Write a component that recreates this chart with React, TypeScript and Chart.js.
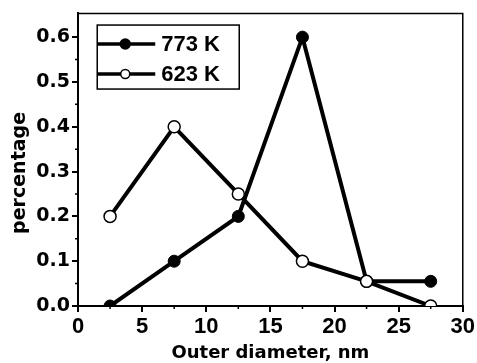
import React, { useEffect, useRef } from "react";
import { Chart, registerables } from "chart.js";

Chart.register(...registerables);

const xValues = [2.5, 7.5, 12.5, 17.5, 22.5, 27.5];
const series773 = [0, 0.1, 0.2, 0.6, 0.055, 0.055];
const series623 = [0.2, 0.4, 0.25, 0.1, 0.055, 0];
const seriesLabels = ["773 K", "623 K"];
const xTicks = [0, 5, 10, 15, 20, 25, 30];
const yTicks = [0, 0.1, 0.2, 0.3, 0.4, 0.5, 0.6];
const xMinorTicks = [2.5, 7.5, 12.5, 17.5, 22.5, 27.5];
const yMinorTicks = [0.05, 0.15, 0.25, 0.35, 0.45, 0.55];
const xTitle = "Outer diameter, nm";
const yTitle = "percentage    ";

const framePlugin = {
  id: "frame",
  afterDraw(chart: any) {
    const { ctx, chartArea, scales } = chart;
    const { left, right, top, bottom } = chartArea;
    ctx.save();
    ctx.strokeStyle = "#000";
    ctx.lineWidth = 1.5;
    ctx.beginPath();
    ctx.moveTo(left, top);
    ctx.lineTo(right, top);
    ctx.lineTo(right, bottom);
    ctx.stroke();
    ctx.lineWidth = 1.5;
    ctx.beginPath();
    yMinorTicks.forEach((v) => {
      const y = scales.y.getPixelForValue(v);
      ctx.moveTo(left - 3, y);
      ctx.lineTo(left, y);
    });
    xMinorTicks.forEach((v) => {
      const x = scales.x.getPixelForValue(v);
      ctx.moveTo(x, bottom);
      ctx.lineTo(x, bottom + 3);
    });
    ctx.stroke();
    ctx.restore();
  },
};

const legendPlugin = {
  id: "customLegend",
  afterDraw(chart: any) {
    const { ctx, scales } = chart;
    const bx = scales.x.getPixelForValue(1.5);
    const by = scales.y.getPixelForValue(0.627);
    const bw = 142;
    const bh = 64;
    ctx.save();
    ctx.fillStyle = "#fff";
    ctx.fillRect(bx, by, bw, bh);
    ctx.strokeStyle = "#000";
    ctx.lineWidth = 1.5;
    ctx.strokeRect(bx, by, bw, bh);
    const rows = [by + 19, by + 49];
    chart.data.datasets.forEach((ds: any) => {
      const idx = seriesLabels.indexOf(ds.label);
      const y = rows[idx];
      ctx.strokeStyle = "#000";
      ctx.lineWidth = 3.5;
      ctx.beginPath();
      ctx.moveTo(bx, y);
      ctx.lineTo(bx + 58, y);
      ctx.stroke();
      ctx.beginPath();
      ctx.arc(bx + 28, y, idx === 0 ? 5 : 4.5, 0, Math.PI * 2);
      ctx.fillStyle = ds.pointBackgroundColor;
      ctx.fill();
      ctx.lineWidth = 1.5;
      ctx.stroke();
      ctx.fillStyle = "#000";
      ctx.font = "bold 22px 'Liberation Sans', Arial, sans-serif";
      ctx.textBaseline = "middle";
      ctx.textAlign = "left";
      ctx.fillText(ds.label, bx + 64, y + 1);
    });
    ctx.restore();
  },
};

export default function App() {
  const ref = useRef<HTMLCanvasElement>(null);
  useEffect(() => {
    if (!ref.current) return;
    const chart = new Chart(ref.current, {
      type: "line",
      data: {
        datasets: [
          {
            label: seriesLabels[0],
            data: xValues.map((x, i) => ({ x, y: series773[i] })),
            borderColor: "#000",
            borderWidth: 4,
            pointRadius: 6,
            pointBackgroundColor: "#000",
            pointBorderColor: "#000",
            pointBorderWidth: 1,
            tension: 0,
            order: 1,
          },
          {
            label: seriesLabels[1],
            data: xValues.map((x, i) => ({ x, y: series623[i] })),
            borderColor: "#000",
            borderWidth: 4,
            pointRadius: 6,
            pointBackgroundColor: "#fff",
            pointBorderColor: "#000",
            pointBorderWidth: 1.5,
            tension: 0,
            order: 0,
          },
        ],
      },
      options: {
        responsive: false,
        animation: false,
        layout: { padding: { top: 10, right: 12, left: 0, bottom: 0 } },
        plugins: { legend: { display: false }, tooltip: { enabled: false } },
        scales: {
          x: {
            type: "linear",
            min: 0,
            max: 30,
            afterBuildTicks: (s: any) => {
              s.ticks = xTicks.map((v) => ({ value: v }));
            },
            afterFit: (s: any) => {
              s.height = 57;
            },
            grid: {
              display: true,
              drawOnChartArea: false,
              drawTicks: true,
              tickLength: 6,
              color: "#000",
              lineWidth: 2,
            },
            border: { display: true, color: "#000", width: 2 },
            ticks: {
              color: "#000",
              padding: 2,
              maxRotation: 0,
              font: { family: "'Liberation Sans', Arial, sans-serif", weight: "bold", size: 22 },
            },
            title: {
              display: true,
              text: xTitle,
              color: "#000",
              padding: { top: 0, bottom: -1 },
              font: { family: "'DejaVu Sans'", weight: "bold", size: 18 },
            },
          },
          y: {
            type: "linear",
            min: 0,
            max: 0.653,
            afterBuildTicks: (s: any) => {
              s.ticks = yTicks.map((v) => ({ value: v }));
            },
            afterFit: (s: any) => {
              s.width = 78;
            },
            grid: {
              display: true,
              drawOnChartArea: false,
              drawTicks: true,
              tickLength: 6,
              color: "#000",
              lineWidth: 2,
            },
            border: { display: true, color: "#000", width: 2 },
            ticks: {
              color: "#000",
              padding: 2,
              callback: (v: any) => Number(v).toFixed(1),
              font: { family: "'DejaVu Sans'", weight: "bold", size: 19 },
            },
            title: {
              display: true,
              text: yTitle,
              color: "#000",
              padding: { top: 9, bottom: 0 },
              font: { family: "'DejaVu Sans'", weight: "bold", size: 19 },
            },
          },
        },
      },
      plugins: [framePlugin, legendPlugin],
    });
    return () => chart.destroy();
  }, []);
  return (
    <div style={{ position: "absolute", left: 0, top: 0, width: 477, height: 363, background: "#fff" }}>
      <canvas ref={ref} width={477} height={363} style={{ display: "block" }} />
    </div>
  );
}
